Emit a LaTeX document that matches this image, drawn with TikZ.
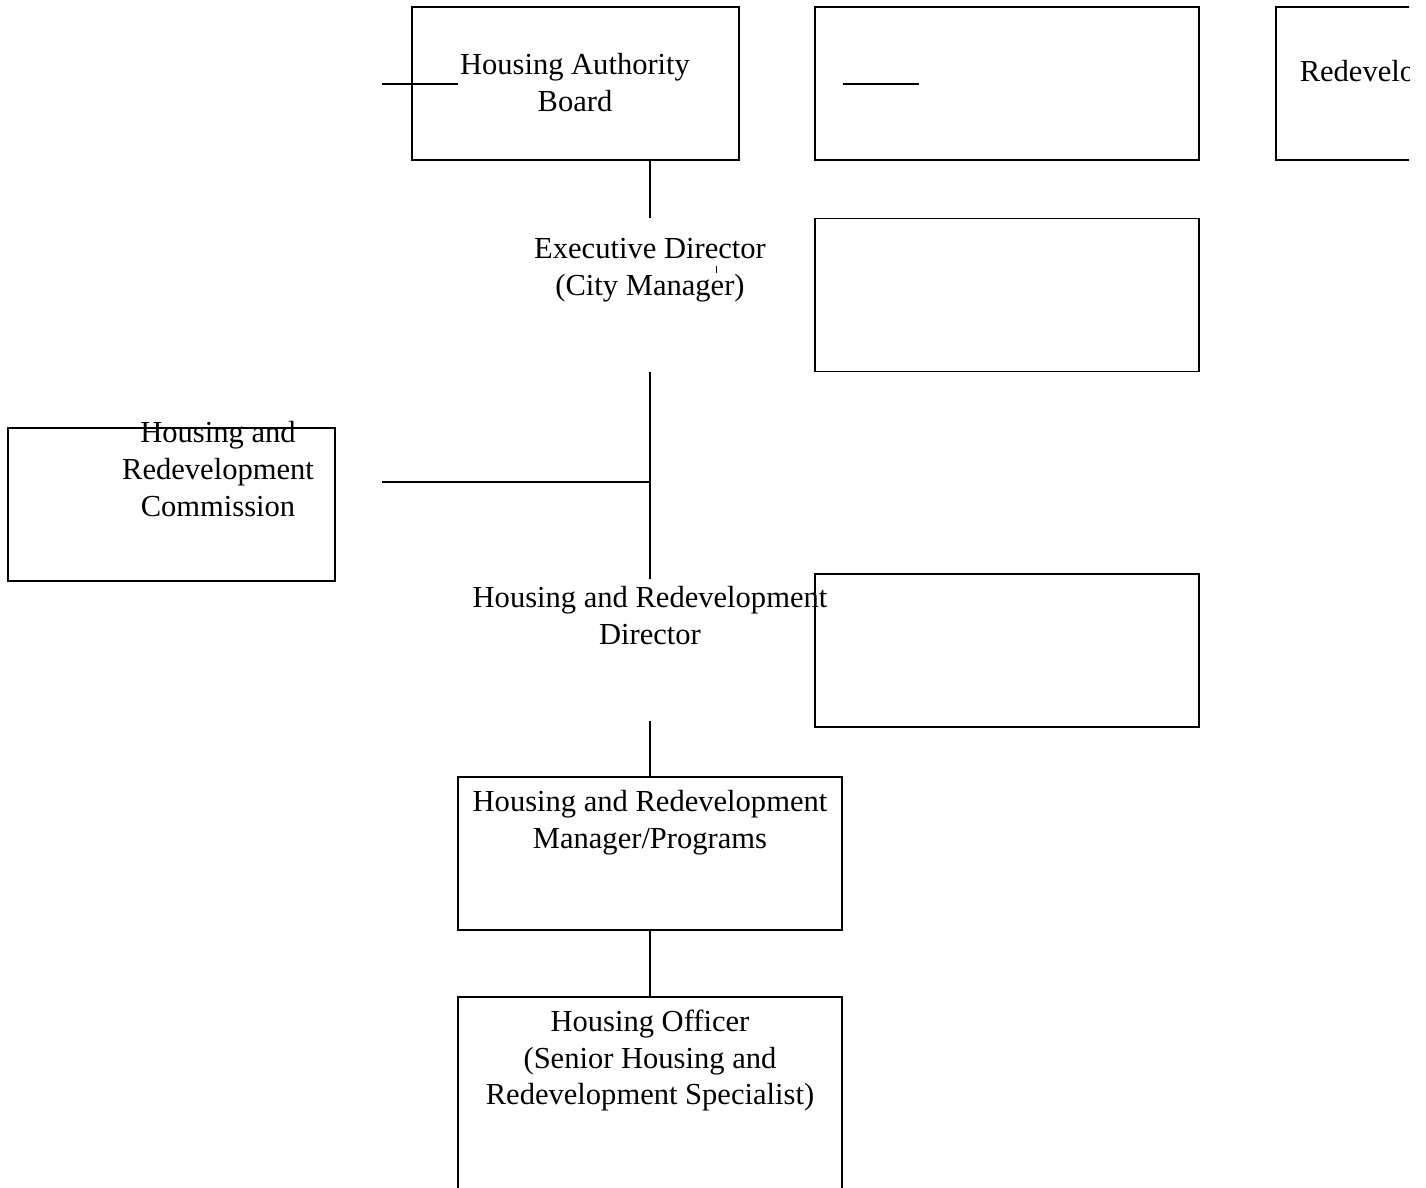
\documentclass[tikz,border=0pt]{standalone}
\usepackage{fontspec}
\setmainfont{Liberation Serif}
\usetikzlibrary{calc}

\begin{document}
\begin{tikzpicture}[x=0.3928pt, y=-0.3928pt, line width=0.6pt,
    post/.style={rectangle, draw, inner sep=0pt, minimum width=150.84pt, minimum height=60.10pt},
    narrowpost/.style={post, minimum width=128.45pt},
    ghost/.style={post, draw=none},
    txt/.style={inner sep=0pt, align=center, font=\fontsize{12}{14.5}\selectfont}]

        % page size and the cut at the right edge
        \useasboundingbox (0,0) rectangle (1426,1188);
        \clip (0,0) rectangle (1409,1188);

        % top row
        \node[narrowpost] (board) at (575.5,83.5) {};
        \node[post] (blankA) at (1007,83.5) {};
        \node[post] (redev) at (1468,83.5) {};
        \node[txt] (board-t) at (575,83) {Housing Authority\\Board};
        \node[txt, anchor=base west] (redev-t) at (1299,82) {Redevelopment};

        % centre column
        \node[ghost] (exec) at (650,295) {};
        \node[ghost, minimum height=54.99pt] (dir) at (650,650) {};
        \node[post] (mgr) at (650,853.5) {};
        \node[post, minimum height=91.52pt] (officer) at (650,1113.5) {};
        \node[txt] (exec-t) at (650,270.5) {Executive Director\\(City Manager)};
        \node[txt] (dir-t) at (650,616) {Housing and Redevelopment\\Director};
        \node[txt] (mgr-t) at (650,823) {Housing and Redevelopment\\Manager/Programs};
        \node[txt] (officer-t) at (650,1060.5) {Housing Officer\\(Senior Housing and\\Redevelopment Specialist)};

        % side boxes
        \node[post] (blankB) at (1007,295) {};
        \node[post] (blankC) at (1007,650.5) {};
        \node[narrowpost] (comm) at (171.5,504.5) {};
        \node[txt] (comm-t) at (218,469) {Housing and\\Redevelopment\\Commission};

        % connectors
        \draw (board.south -| exec.north) -- (exec.north);
        \draw (exec.south) -- (dir.north);
        \draw (dir.south) -- (mgr.north);
        \draw (mgr.south) -- (officer.north);
        \coordinate (feed) at (382,482);
        \draw (feed) -- (feed -| exec.south);

        % loose strokes
        \coordinate (stubA) at (382,84);
        \coordinate (stubA') at (458,84);
        \coordinate (stubB) at (843,84);
        \coordinate (stubB') at (919,84);
        \coordinate (tick) at (716,266);
        \coordinate (tick') at (716,273);
        \draw (stubA) -- (stubA');
        \draw (stubB) -- (stubB');
        \draw[line width=0.4pt] (tick) -- (tick');

\end{tikzpicture}
\end{document}
